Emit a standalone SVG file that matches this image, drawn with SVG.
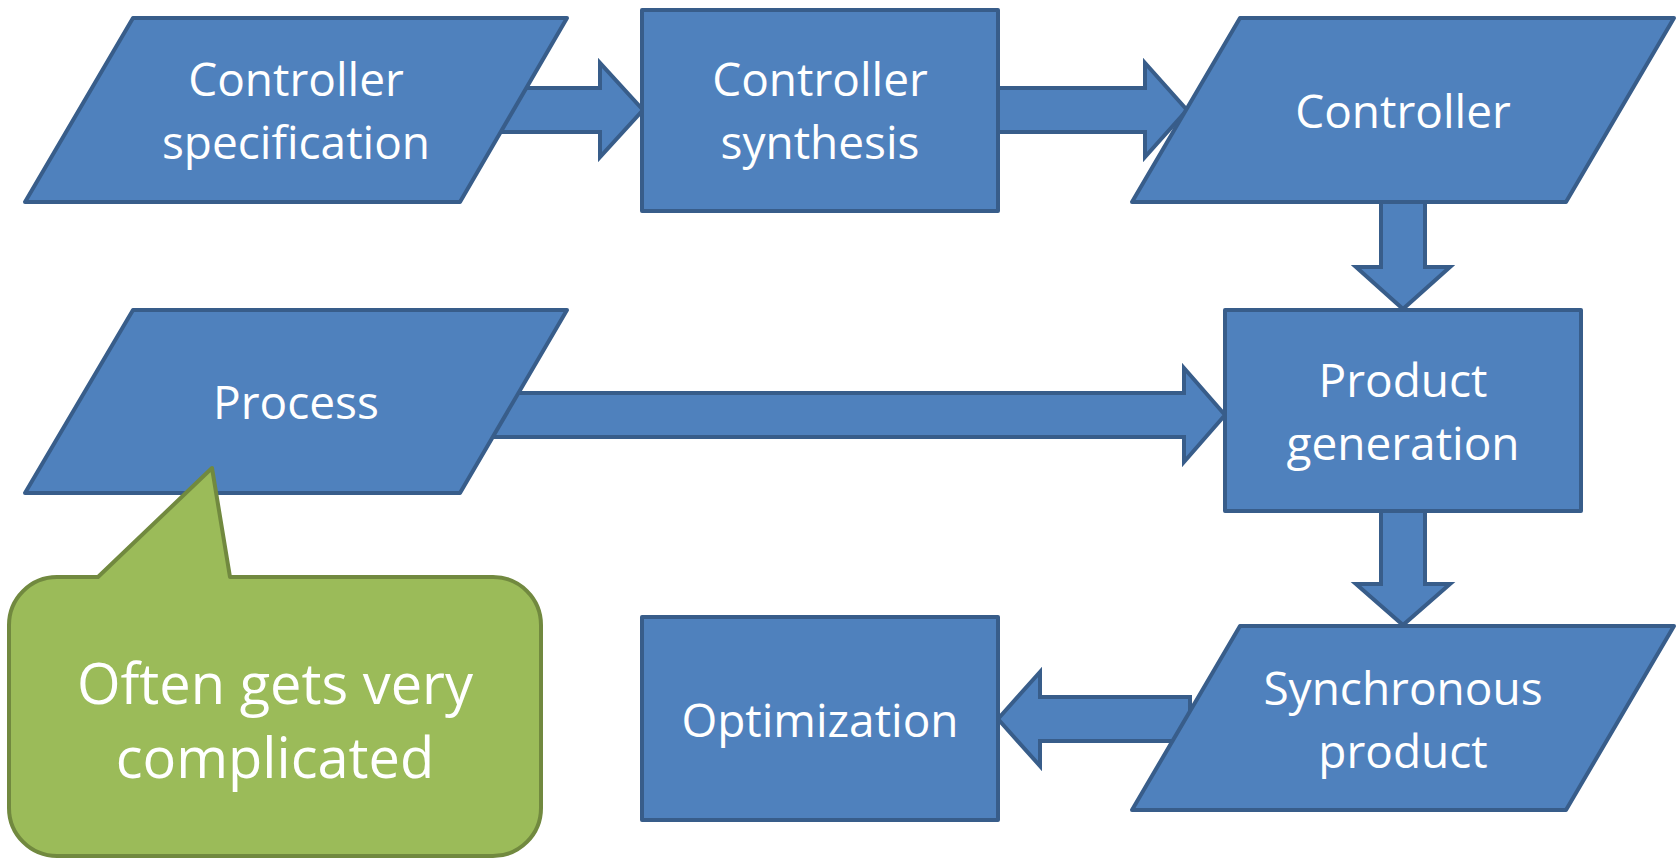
<svg xmlns="http://www.w3.org/2000/svg" width="1678" height="859" viewBox="0 0 1678 859">
  <style>
    .node { fill: #4F81BD; stroke: #385D8A; stroke-width: 4; stroke-linejoin: round; }
    .arrow { fill: #4F81BD; stroke: #385D8A; stroke-width: 4; stroke-linejoin: miter; }
    .note { fill: #9BBB59; stroke: #71893F; stroke-width: 4; stroke-linejoin: round; }
    .label { fill: #FFFFFF; font-family: "Open Sans", "Noto Sans", sans-serif; font-size: 46px; text-anchor: middle; }
    .note-label { fill: #FFFFFF; font-family: "Open Sans", "Noto Sans", sans-serif; font-size: 56px; text-anchor: middle; }
  </style>
  <rect width="1678" height="859" fill="#FFFFFF"/>

  <!-- block arrows, drawn beneath the nodes -->
  <g id="connectors">
    <polygon class="arrow" points="480,88 600,88 600,63 643,110 600,157 600,132 480,132"/>
    <polygon class="arrow" points="998,88 1145,88 1145,63 1187,110 1145,157 1145,132 998,132"/>
    <polygon class="arrow" points="1381,190 1425,190 1425,267 1450,267 1403,309 1356,267 1381,267"/>
    <polygon class="arrow" points="450,393 1184,393 1184,368 1225,415 1184,462 1184,437 450,437"/>
    <polygon class="arrow" points="1381,500 1425,500 1425,584 1450,584 1403,625 1356,584 1381,584"/>
    <polygon class="arrow" points="1190,697 1040,697 1040,672 998,719 1040,766 1040,741 1190,741"/>
  </g>

  <g id="controller-specification">
    <polygon class="node" points="133,18 567,18 460,202 25,202"/>
    <text class="label" x="296" y="96">Controller</text>
    <text class="label" x="296" y="159">specification</text>
  </g>

  <g id="controller-synthesis">
    <rect class="node" x="642" y="10" width="356" height="201"/>
    <text class="label" x="820" y="96">Controller</text>
    <text class="label" x="820" y="159">synthesis</text>
  </g>

  <g id="controller">
    <polygon class="node" points="1240,18 1674,18 1566,202 1132,202"/>
    <text class="label" x="1403" y="128">Controller</text>
  </g>

  <g id="process">
    <polygon class="node" points="133,310 567,310 460,493 25,493"/>
    <text class="label" x="296" y="419">Process</text>
  </g>

  <g id="product-generation">
    <rect class="node" x="1225" y="310" width="356" height="201"/>
    <text class="label" x="1403" y="397">Product</text>
    <text class="label" x="1403" y="460">generation</text>
  </g>

  <g id="synchronous-product">
    <polygon class="node" points="1240,626 1674,626 1566,810 1132,810"/>
    <text class="label" x="1403" y="705">Synchronous</text>
    <text class="label" x="1403" y="768">product</text>
  </g>

  <g id="optimization">
    <rect class="node" x="642" y="617" width="356" height="203"/>
    <text class="label" x="820" y="737">Optimization</text>
  </g>

  <!-- speech bubble pointing at the process -->
  <g id="note-complicated">
    <path class="note" d="M57,577 L98,577 L212,468 L230,577 L493,577 A48,48 0 0 1 541,625 L541,808 A48,48 0 0 1 493,856 L57,856 A48,48 0 0 1 9,808 L9,625 A48,48 0 0 1 57,577 Z"/>
    <text class="note-label" x="275" y="704">Often gets very</text>
    <text class="note-label" x="275" y="778">complicated</text>
  </g>
</svg>
